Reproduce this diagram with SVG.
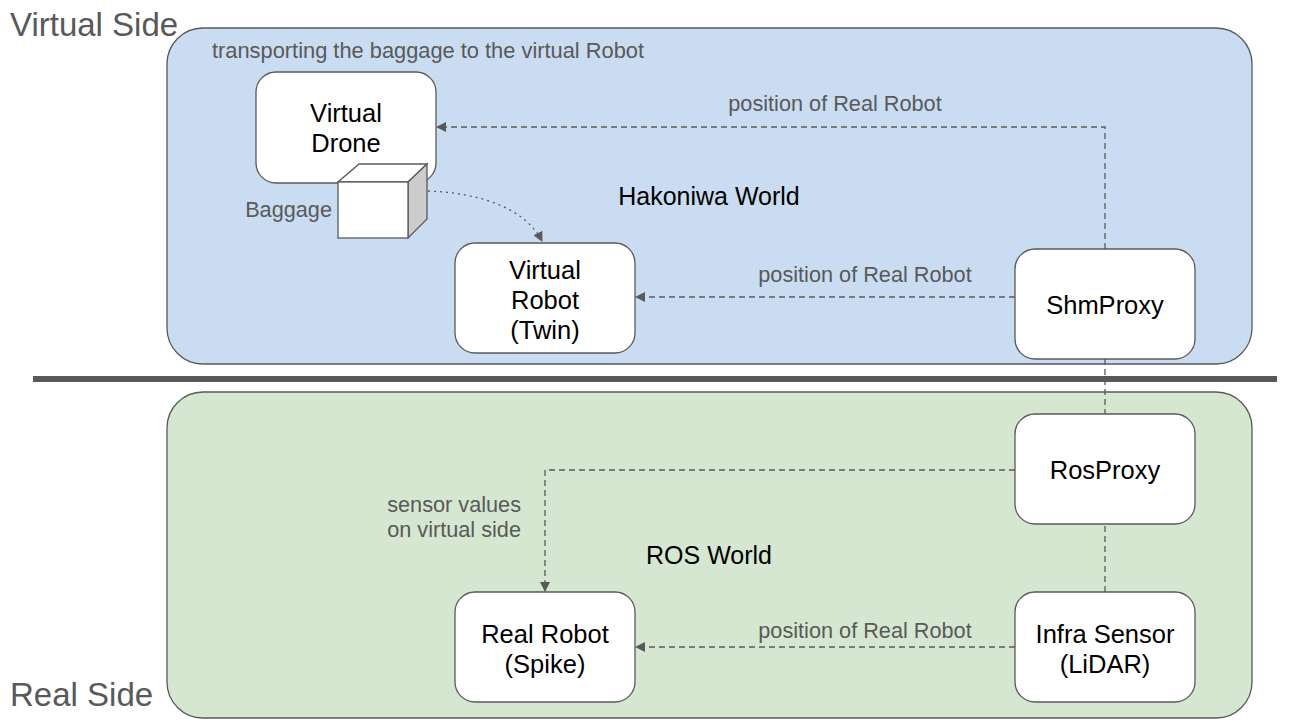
<svg xmlns="http://www.w3.org/2000/svg" width="1297" height="726" viewBox="0 0 1297 726">
<style>
text{font-family:"Liberation Sans",Arial,sans-serif}
.node{fill:#ffffff;stroke:#595959;stroke-width:1.3}
.nt{font-size:25.5px;fill:#000;text-anchor:middle}
.lbl{font-size:21.7px;fill:#595959}
.side{font-size:33px;fill:#595959}
.world{font-size:25px;fill:#000;text-anchor:middle}
.dash{fill:none;stroke:#595959;stroke-width:1.3;stroke-dasharray:6 4}
</style>
<defs>
<marker id="arr" viewBox="0 0 10 10" refX="9" refY="5" markerWidth="10" markerHeight="10" markerUnits="userSpaceOnUse" orient="auto">
<path d="M0,0 L10,5 L0,10 z" fill="#595959"/>
</marker>
</defs>
<rect width="1297" height="726" fill="#ffffff"/>
<g id="virtual-side">
<rect x="167" y="28" width="1085" height="336" rx="36" fill="#c9dcf1" stroke="#595959" stroke-width="1.3"/>
<text class="side" x="10" y="36">Virtual Side</text>
<text class="lbl" x="212" y="58" textLength="432" lengthAdjust="spacingAndGlyphs">transporting the baggage to the virtual Robot</text>
<text class="world" x="709" y="205">Hakoniwa World</text>
</g>
<g id="divider"><line x1="33" y1="379" x2="1277" y2="379" stroke="#595959" stroke-width="6"/></g>
<g id="real-side">
<rect x="167" y="392" width="1085" height="326" rx="36" fill="#d5e7d0" stroke="#595959" stroke-width="1.3"/>
<text class="side" x="10" y="706">Real Side</text>
<text class="world" x="709" y="564">ROS World</text>
</g>
<g id="connectors">
<path class="dash" d="M1105,249 V127 H437" marker-end="url(#arr)"/>
<path class="dash" d="M1015,297 H636" marker-end="url(#arr)"/>
<path class="dash" d="M1105,359 V414"/>
<path class="dash" d="M1015,470 H545 V591" marker-end="url(#arr)"/>
<path class="dash" d="M1105,592 V524"/>
<path class="dash" d="M1015,647 H636" marker-end="url(#arr)"/>
<path d="M428,191 C480,193 525,208 542,241" fill="none" stroke="#595959" stroke-width="1.3" stroke-dasharray="2 4" marker-end="url(#arr)"/>
<text class="lbl" x="835" y="111" text-anchor="middle">position of Real Robot</text>
<text class="lbl" x="865" y="282" text-anchor="middle">position of Real Robot</text>
<text class="lbl" x="865" y="638" text-anchor="middle">position of Real Robot</text>
<text class="lbl" x="521" y="512" text-anchor="end">sensor values</text>
<text class="lbl" x="521" y="537" text-anchor="end">on virtual side</text>
</g>
<g id="virtual-drone">
<rect class="node" x="256" y="72" width="180" height="111" rx="20"/>
<text class="nt" x="346" y="122">Virtual</text>
<text class="nt" x="346" y="152">Drone</text>
</g>
<g id="baggage">
<polygon points="338,182 359,164 427,164 408,182" fill="#ffffff" stroke="#595959" stroke-width="1.3"/>
<polygon points="408,182 427,164 427,219 408,238" fill="#cccccc" stroke="#595959" stroke-width="1.3"/>
<rect x="338" y="182" width="70" height="56" fill="#ffffff" stroke="#595959" stroke-width="1.3"/>
<text class="lbl" x="332" y="217" text-anchor="end">Baggage</text>
</g>
<g id="virtual-robot">
<rect class="node" x="455" y="243" width="180" height="110" rx="20"/>
<text class="nt" x="545" y="279">Virtual</text>
<text class="nt" x="545" y="309">Robot</text>
<text class="nt" x="545" y="339">(Twin)</text>
</g>
<g id="shmproxy">
<rect class="node" x="1015" y="249" width="180" height="110" rx="20"/>
<text class="nt" x="1105" y="314">ShmProxy</text>
</g>
<g id="rosproxy">
<rect class="node" x="1015" y="414" width="180" height="110" rx="20"/>
<text class="nt" x="1105" y="479">RosProxy</text>
</g>
<g id="infra-sensor">
<rect class="node" x="1015" y="592" width="180" height="110" rx="20"/>
<text class="nt" x="1105" y="643">Infra Sensor</text>
<text class="nt" x="1105" y="673">(LiDAR)</text>
</g>
<g id="real-robot">
<rect class="node" x="455" y="592" width="180" height="110" rx="20"/>
<text class="nt" x="545" y="643">Real Robot</text>
<text class="nt" x="545" y="673">(Spike)</text>
</g>
</svg>
